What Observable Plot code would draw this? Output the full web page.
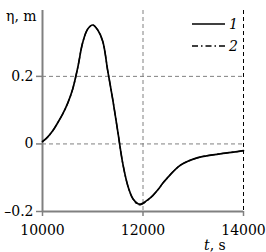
<!DOCTYPE html>
<html><head>
<meta charset="utf-8">
<script src="https://cdn.jsdelivr.net/npm/d3@7"></script>
<script src="https://cdn.jsdelivr.net/npm/@observablehq/plot@0.6"></script>
<style>
body{margin:0;background:#fff;}
#wrap{position:relative;width:266px;height:252px;}
</style>
</head><body><div id="wrap"></div>
<script>
const time = [10000,10100,10200,10300,10400,10500,10600,10700,10800,10900,11000,11100,11200,11300,11400,11500,11600,11700,11800,11900,11950,12000,12100,12200,12300,12400,12500,12600,12700,12800,13000,13200,13500,13800,14000];
const eta1 = [0.007,0.020,0.038,0.062,0.088,0.120,0.162,0.225,0.300,0.340,0.352,0.337,0.303,0.215,0.130,0.035,-0.060,-0.125,-0.162,-0.177,-0.178,-0.175,-0.165,-0.152,-0.135,-0.115,-0.098,-0.082,-0.068,-0.058,-0.045,-0.037,-0.030,-0.024,-0.020];
const eta2 = [0.007,0.020,0.038,0.062,0.088,0.120,0.162,0.225,0.300,0.340,0.352,0.337,0.303,0.215,0.130,0.035,-0.060,-0.125,-0.163,-0.179,-0.180,-0.177,-0.166,-0.152,-0.135,-0.115,-0.098,-0.082,-0.068,-0.058,-0.045,-0.037,-0.030,-0.024,-0.020];
const xTicks = [10000,12000,14000];
const yTicks = [-0.2,0,0.2];
const yGrid = [0,0.2];
const xGrid = [12000];
const xEdge = [14000];
const seriesNames = ["1","2"];
const yTitle = "η, m";

const FONT = "DejaVu Serif";
const FS = 14;
const s1 = time.map((t,i)=>({t, v:eta1[i]}));
const s2 = time.map((t,i)=>({t, v:eta2[i]}));
const gray = "#808080";

const chart = Plot.plot({
  width:266, height:252,
  marginLeft:42, marginRight:23, marginTop:10, marginBottom:41,
  style:{fontFamily:FONT, fontSize:FS+"px", color:"#000", background:"#fff", overflow:"visible"},
  x:{domain:[10000,14000]},
  y:{domain:[-0.2,0.395]},
  marks:[
    Plot.ruleY(yGrid,{stroke:gray, strokeDasharray:"4,3", strokeWidth:1}),
    Plot.ruleX(xGrid,{stroke:gray, strokeDasharray:"4,3", strokeWidth:1}),
    Plot.ruleX(xEdge,{stroke:"#000", strokeDasharray:"4,3", strokeWidth:1}),
    Plot.ruleY([-0.2],{stroke:gray, strokeWidth:2}),
    Plot.ruleX([10000],{stroke:gray, strokeWidth:2}),
    Plot.axisX({ticks:xTicks, tickFormat:d=>String(d), tickSize:5, tickPadding:9, stroke:gray, strokeWidth:1.5, label:null, fill:"#000", fontFamily:FONT}),
    Plot.axisY({ticks:yTicks, tickFormat:d=>d===0?"0":(d<0?"\u2013":"")+Math.abs(d).toFixed(1), tickSize:6, tickPadding:3, stroke:gray, strokeWidth:1.5, label:null, fill:"#000", fontFamily:FONT}),
    Plot.line(s2,{x:"t", y:"v", stroke:"#000", strokeWidth:1.3, strokeDasharray:"7,3,1.5,3", curve:"catmull-rom"}),
    Plot.line(s1,{x:"t", y:"v", stroke:"#000", strokeWidth:1.7, curve:"catmull-rom"})
  ]
});
const wrap = document.getElementById("wrap");
wrap.appendChild(chart);

const leg = d3.select(wrap).append("svg")
  .attr("width",266).attr("height",252)
  .style("position","absolute").style("left","0").style("top","0");
const dashes = [null,"6,3,1.5,3"];
seriesNames.forEach((n,i)=>{
  const y = 24 + i*22;
  leg.append("line").attr("x1",192).attr("x2",225).attr("y1",y).attr("y2",y)
    .attr("stroke","#000").attr("stroke-width",1.5)
    .attr("stroke-dasharray",dashes[i]);
  leg.append("text").attr("x",229).attr("y",y+5)
    .attr("font-family",FONT).attr("font-size",FS)
    .attr("font-style","italic").text(n);
});
leg.append("text").attr("x",6).attr("y",21)
  .attr("font-family",FONT).attr("font-size",FS).text(yTitle);
const xt = leg.append("text").attr("x",204).attr("y",250)
  .attr("font-family",FONT).attr("font-size",FS);
xt.append("tspan").attr("font-style","italic").text("t");
xt.append("tspan").text(", s");
</script>
</body></html>
